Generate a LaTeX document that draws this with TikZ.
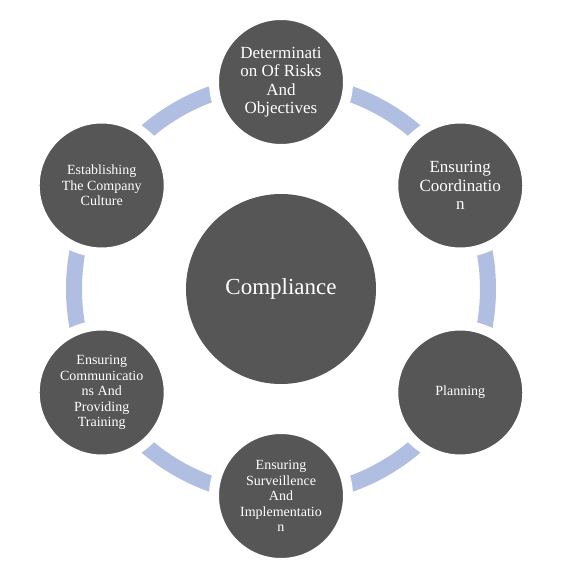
\documentclass[tikz,border=0pt]{standalone}
\usepackage{fontspec}
\setmainfont{Liberation Serif}
\definecolor{ringblue}{RGB}{176,190,226}
\definecolor{discgray}{RGB}{86,86,86}

\begin{document}
\begin{tikzpicture}[x = 1pt, y = 1pt,
        disc/.style = {circle, fill = discgray, draw = white, line width = 10pt, minimum size = 134pt, inner sep = 0pt, text = white, align = center, font = \fontsize{14}{15.5}\selectfont},
        bigdisc/.style = {disc, font = \fontsize{17}{18.5}\selectfont}]
        \useasboundingbox (-281, -290) rectangle (298, 289);
        \draw[ringblue, line width = 16pt] (0, 0) circle (207);

        \node[circle, fill = discgray, minimum size = 190pt, inner sep = 0pt, text = white, font = \fontsize{23}{26}\selectfont] (compl) at (0, 0) {Compliance};

        \node[bigdisc] (risks) at (90:207) {Determinati\\on Of Risks\\And\\Objectives};
        \node[bigdisc] (coord) at (30:207) {Ensuring\\Coordinatio\\n};
        \node[disc] (plan) at (-30:207) {Planning};
        \node[disc] (surv) at (-90:207) {Ensuring\\Surveillence\\And\\Implementatio\\n};
        \node[disc] (comm) at (-150:207) {Ensuring\\Communicatio\\ns And\\Providing\\Training};
        \node[disc] (culture) at (150:207) {Establishing\\The Company\\Culture};

    \end{tikzpicture}
\end{document}
